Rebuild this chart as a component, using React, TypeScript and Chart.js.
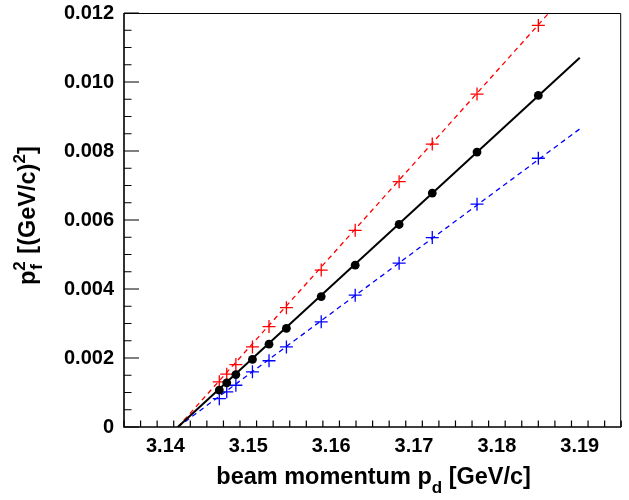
import React, { useEffect, useRef } from "react";
import { Chart, registerables } from "chart.js";

Chart.register(...registerables);

// beam momentum p_d [GeV/c]
const pd = [3.1465, 3.1474, 3.1485, 3.1505, 3.1525, 3.1546, 3.1588, 3.1629, 3.1682, 3.1722, 3.1776, 3.185];
// p_f^2 [(GeV/c)^2]
const pfCentral = [0.00107, 0.00128, 0.00152, 0.00196, 0.0024, 0.00286, 0.00378, 0.00469, 0.00587, 0.00678, 0.00797, 0.00961];
const pfUpper = [0.00131, 0.00153, 0.00181, 0.00232, 0.00291, 0.00346, 0.00455, 0.0057, 0.00711, 0.0082, 0.00965, 0.01164];
const pfLower = [0.00082, 0.00102, 0.00121, 0.0016, 0.00192, 0.00232, 0.00305, 0.00382, 0.00475, 0.00549, 0.00646, 0.00779];

// fit lines
const fitX = [3.1415, 3.19];
const fitCentral = [0, 0.0107];
const fitUpper = [0, 0.013];
const fitLower = [0, 0.00864];

// axes
const X_MIN = 3.135;
const X_MAX = 3.195;
const Y_MIN = 0;
const Y_MAX = 0.012;
const xTickValues = [3.14, 3.15, 3.16, 3.17, 3.18, 3.19];
const xTickLabels = ["3.14", "3.15", "3.16", "3.17", "3.18", "3.19"];
const yTickValues = [0, 0.002, 0.004, 0.006, 0.008, 0.01, 0.012];
const yTickLabels = ["0", "0.002", "0.004", "0.006", "0.008", "0.010", "0.012"];
const X_MINOR_STEP = 0.002;
const Y_MINOR_STEP = 0.0005;

const FONT = '"Liberation Sans", Arial, Helvetica, sans-serif';
const TITLE = 23.5;
const SMALL = 17;

const pts = (xs: number[], ys: number[]) => xs.map((x, i) => ({ x, y: ys[i] }));

type Part = { t: string; size: number; dy: number };

function drawRich(ctx: CanvasRenderingContext2D, parts: Part[], x: number, y: number, align: "left" | "center") {
  let total = 0;
  const widths = parts.map((p) => {
    ctx.font = `bold ${p.size}px ${FONT}`;
    const w = ctx.measureText(p.t).width;
    total += w;
    return w;
  });
  let cx = align === "center" ? x - total / 2 : x;
  ctx.textAlign = "left";
  ctx.textBaseline = "alphabetic";
  parts.forEach((p, i) => {
    ctx.font = `bold ${p.size}px ${FONT}`;
    ctx.fillText(p.t, cx, y + p.dy);
    cx += widths[i];
  });
}

const rootAxesPlugin = {
  id: "rootAxes",
  afterDraw(chart: any) {
    const { ctx, chartArea } = chart;
    const { left, top, right, bottom } = chartArea;
    const xs = chart.scales.x;
    const ys = chart.scales.y;
    ctx.save();
    // frame
    ctx.strokeStyle = "#000";
    ctx.lineWidth = 1;
    ctx.beginPath();
    ctx.moveTo(left, top + 0.5);
    ctx.lineTo(right - 0.5, top + 0.5);
    ctx.lineTo(right - 0.5, bottom);
    ctx.stroke();
    ctx.lineWidth = 1.6;
    ctx.beginPath();
    ctx.moveTo(left, top);
    ctx.lineTo(left, bottom);
    ctx.lineTo(right, bottom);
    ctx.stroke();

    // ticks
    ctx.lineWidth = 1.2;
    ctx.beginPath();
    for (let v = X_MIN; v <= X_MAX + 1e-9; v += X_MINOR_STEP) {
      const px = xs.getPixelForValue(v);
      const isMajor = xTickValues.some((t) => Math.abs(t - v) < 1e-6);
      const len = isMajor ? 13 : 6.5;
      ctx.moveTo(px, bottom);
      ctx.lineTo(px, bottom - len);
    }
    for (let v = Y_MIN; v <= Y_MAX + 1e-9; v += Y_MINOR_STEP) {
      const py = ys.getPixelForValue(v);
      const isMajor = yTickValues.some((t) => Math.abs(t - v) < 1e-7);
      const len = isMajor ? 15 : 7.5;
      ctx.moveTo(left, py);
      ctx.lineTo(left + len, py);
    }
    ctx.stroke();

    // tick labels
    ctx.fillStyle = "#000";
    ctx.font = `bold 20px ${FONT}`;
    ctx.textAlign = "center";
    ctx.textBaseline = "middle";
    xTickValues.forEach((v, i) => {
      ctx.fillText(xTickLabels[i], xs.getPixelForValue(v), bottom + 19);
    });
    ctx.textAlign = "right";
    yTickValues.forEach((v, i) => {
      ctx.fillText(yTickLabels[i], left - 10, ys.getPixelForValue(v));
    });

    // x title
    drawRich(
      ctx,
      [
        { t: "beam momentum p", size: TITLE, dy: 0 },
        { t: "d", size: SMALL, dy: 9 },
        { t: " [GeV/c]", size: TITLE, dy: 0 },
      ],
      (left + right) / 2 + 1,
      bottom + 57,
      "center"
    );

    // y title (rotated)
    ctx.save();
    ctx.translate(35, 285);
    ctx.rotate(-Math.PI / 2);
    ctx.textAlign = "left";
    ctx.textBaseline = "alphabetic";
    ctx.font = `bold ${TITLE}px ${FONT}`;
    const pW = ctx.measureText("p").width;
    ctx.fillText("p", 0, 0);
    ctx.font = `bold ${SMALL}px ${FONT}`;
    ctx.fillText("f", pW + 1, 7);
    ctx.fillText("2", pW, -10);
    const w2 = ctx.measureText("2").width;
    drawRich(
      ctx,
      [
        { t: " [(GeV/c)", size: TITLE, dy: 0 },
        { t: "2", size: SMALL, dy: -10 },
        { t: "]", size: TITLE, dy: 0 },
      ],
      pW + w2 + 1,
      0,
      "left"
    );
    ctx.restore();

    ctx.restore();
  },
};

export default function App() {
  const canvasRef = useRef<HTMLCanvasElement | null>(null);

  useEffect(() => {
    if (!canvasRef.current) return;
    const chart = new Chart(canvasRef.current, {
      type: "scatter",
      data: {
        datasets: [
          {
            label: "central",
            data: pts(pd, pfCentral),
            pointStyle: "circle",
            pointRadius: 4.4,
            pointBackgroundColor: "#000",
            pointBorderColor: "#000",
            pointBorderWidth: 0,
            showLine: false,
            order: 0,
          },
          {
            label: "upper",
            data: pts(pd, pfUpper),
            pointStyle: "cross",
            pointRadius: 6.5,
            pointBorderColor: "#ff0000",
            pointBorderWidth: 1.3,
            showLine: false,
            order: 1,
          },
          {
            label: "lower",
            data: pts(pd, pfLower),
            pointStyle: "cross",
            pointRadius: 6.5,
            pointBorderColor: "#0000ff",
            pointBorderWidth: 1.3,
            showLine: false,
            order: 2,
          },
          {
            label: "fit central",
            data: pts(fitX, fitCentral),
            showLine: true,
            borderColor: "#000",
            borderWidth: 2,
            pointRadius: 0,
            order: 3,
          },
          {
            label: "fit upper",
            data: pts(fitX, fitUpper),
            showLine: true,
            borderColor: "#ff0000",
            borderWidth: 1.3,
            borderDash: [5, 4],
            pointRadius: 0,
            order: 4,
          },
          {
            label: "fit lower",
            data: pts(fitX, fitLower),
            showLine: true,
            borderColor: "#0000ff",
            borderWidth: 1.3,
            borderDash: [5, 4],
            pointRadius: 0,
            order: 5,
          },
        ],
      },
      options: {
        responsive: false,
        animation: false,
        clip: 0 as any,
        layout: { padding: { left: 124, top: 13, right: 1, bottom: 73 } },
        plugins: {
          legend: { display: false },
          tooltip: { enabled: false },
        },
        scales: {
          x: { type: "linear", min: X_MIN, max: X_MAX, display: false },
          y: { type: "linear", min: Y_MIN, max: Y_MAX, display: false },
        },
      },
      plugins: [rootAxesPlugin],
    });
    return () => chart.destroy();
  }, []);

  return (
    <div style={{ position: "absolute", left: 0, top: 0, width: 629, height: 500, background: "#fff" }}>
      <canvas ref={canvasRef} width={629} height={500} />
    </div>
  );
}
